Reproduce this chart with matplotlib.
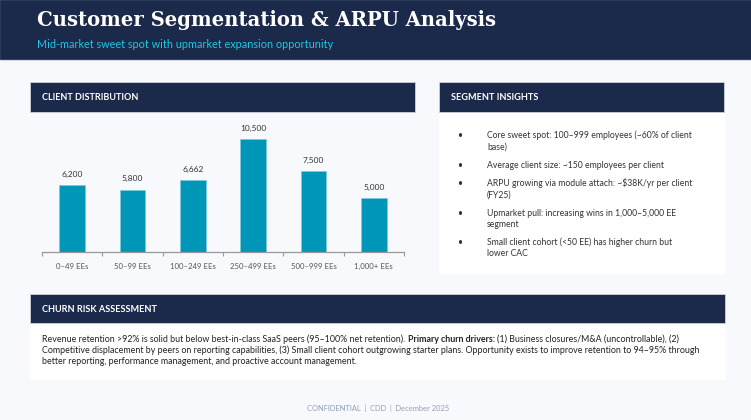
import matplotlib
matplotlib.use("Agg")
import matplotlib.pyplot as plt
import matplotlib.patches as patches

# Chart data
segments = ["0–49 EEs", "50–99 EEs", "100–249 EEs", "250–499 EEs", "500–999 EEs", "1,000+ EEs"]
clients = [6200, 5800, 6662, 10500, 7500, 5000]

title = "Customer Segmentation & ARPU Analysis"
subtitle = "Mid-market sweet spot with upmarket expansion opportunity"

insights = [
    ["Core sweet spot: 100–999 employees (~60% of client", "base)"],
    ["Average client size: ~150 employees per client"],
    ["ARPU growing via module attach: ~$38K/yr per client", "(FY25)"],
    ["Upmarket pull: increasing wins in 1,000–5,000 EE", "segment"],
    ["Small client cohort (<50 EE) has higher churn but", "lower CAC"],
]

churn_lines = [
    [("Revenue retention >92% is solid but below best-in-class SaaS peers (95–100% net retention). ", "normal"),
     ("Primary churn drivers: ", "bold"),
     ("(1) Business closures/M&A (uncontrollable), (2)", "normal")],
    [("Competitive displacement by peers on reporting capabilities, (3) Small client cohort outgrowing "
      "starter plans. Opportunity exists to improve retention to 94–95% through", "normal")],
    [("better reporting, performance management, and proactive account management.", "normal")],
]
footer = "CONFIDENTIAL  |  CDD  |  December 2025"

NAVY = "#1b2a4a"
BG = "#f7f9fc"
TEAL = "#0096b7"
CYAN = "#1fc6e6"
SANS = ["Lato", "DejaVu Sans"]

W, H = 751, 420
fig = plt.figure(figsize=(W / 100, H / 100), dpi=100, facecolor=BG)
bg = fig.add_axes([0, 0, 1, 1])
bg.set_xlim(0, W)
bg.set_ylim(H, 0)
bg.axis("off")
renderer = fig.canvas.get_renderer()


def text_width(t):
    bb = t.get_window_extent(renderer=renderer)
    return bb.width


def fit_text(x, y, s, width, **kw):
    # draw text and rescale its size so it spans the given pixel width
    t = bg.text(x, y, s, fontsize=10, **kw)
    t.set_fontsize(10 * width / text_width(t))
    return t


def box(x0, y0, x1, y1, color, edge=None):
    bg.add_patch(patches.Rectangle((x0, y0), x1 - x0, y1 - y0, facecolor=color,
                                   edgecolor=edge or color, linewidth=0.6))


# Top banner
box(0, 0, W, 59, NAVY)
bg.plot([0, W], [59.5, 59.5], color="#d5dbe4", lw=0.8)
fit_text(37, 20, title, 460, family="DejaVu Serif", weight="bold", color="white", va="center")
fit_text(37, 45, subtitle, 296, family=SANS, color=CYAN, va="center")

# Panel headers and bodies
box(30, 82, 415, 112, NAVY, "#c9d1dc")
fit_text(42, 98, "CLIENT DISTRIBUTION", 96, family=SANS, weight="bold", color="white", va="center")

box(439, 112, 724, 274, "white")
box(439, 82, 724, 112, NAVY, "#c9d1dc")
fit_text(451, 97, "SEGMENT INSIGHTS", 88, family=SANS, weight="bold", color="white", va="center")

box(30, 323, 725, 379, "white")
box(30, 294, 725, 323, NAVY, "#c9d1dc")
fit_text(42, 309, "CHURN RISK ASSESSMENT", 115, family=SANS, weight="bold", color="white", va="center")

# Segment insights bullets
line_y = [[135.7, 146.7], [165.3], [183.3, 195.0], [213.3, 224.3], [242.7, 253.3]]
ins_size = None
for item, ys in zip(insights, line_y):
    bg.text(460, ys[0], "•", fontsize=6.2, family=SANS, color="#333333", va="center", ha="center")
    for s, y in zip(item, ys):
        t = bg.text(487, y, s, fontsize=6.2, family=SANS, color="#333333", va="center")
        if ins_size is None:
            t.set_fontsize(6.2 * 207 / text_width(t))
            ins_size = t.get_fontsize()
        t.set_fontsize(ins_size)

# Churn paragraph
churn_y = [339.3, 350.6, 361.9]
t = bg.text(42, churn_y[1], churn_lines[1][0][0], fontsize=6.2, family=SANS, color="#222222", va="center")
churn_size = 6.2 * (705.7 - 42) / text_width(t)
t.remove()
for parts, y in zip(churn_lines, churn_y):
    x = 42
    for s, wgt in parts:
        t = bg.text(x, y, s, fontsize=churn_size, family=SANS, weight=wgt, color="#222222", va="center")
        x += text_width(t)

fit_text(378, 408.3, footer, 144, family=SANS, color="#8fa0b5", va="center", ha="center")

# Bar chart
ax = fig.add_axes([42 / W, (H - 252) / H, 362 / W, 129 / H])
ax.set_facecolor("none")
pos = range(len(segments))
bars = ax.bar(pos, clients, width=0.42, color=TEAL, edgecolor="#7fcbdc", linewidth=0.5)
ax.set_xlim(-0.5, len(segments) - 0.5)
ax.set_ylim(0, 12000)
for b, v in zip(bars, clients):
    ax.annotate(f"{v:,}", (b.get_x() + b.get_width() / 2, v), xytext=(0, 7.5),
                textcoords="offset pixels", ha="center", va="bottom",
                fontsize=6.0, family=SANS, color="#333333")
ax.set_xticks(list(pos))
ax.set_xticklabels(segments, fontsize=5.6, family=SANS, color="#555555")
ax.set_xticks([i - 0.5 for i in range(len(segments) + 1)], minor=True)
ax.tick_params(axis="x", which="major", length=0, pad=8)
ax.tick_params(axis="x", which="minor", length=3, color="#999999", width=0.8)
ax.set_yticks([])
for sp in ["top", "left", "right"]:
    ax.spines[sp].set_visible(False)
ax.spines["bottom"].set_color("#999999")
ax.spines["bottom"].set_linewidth(0.9)

fig.savefig("out.png", dpi=100, facecolor=BG)
